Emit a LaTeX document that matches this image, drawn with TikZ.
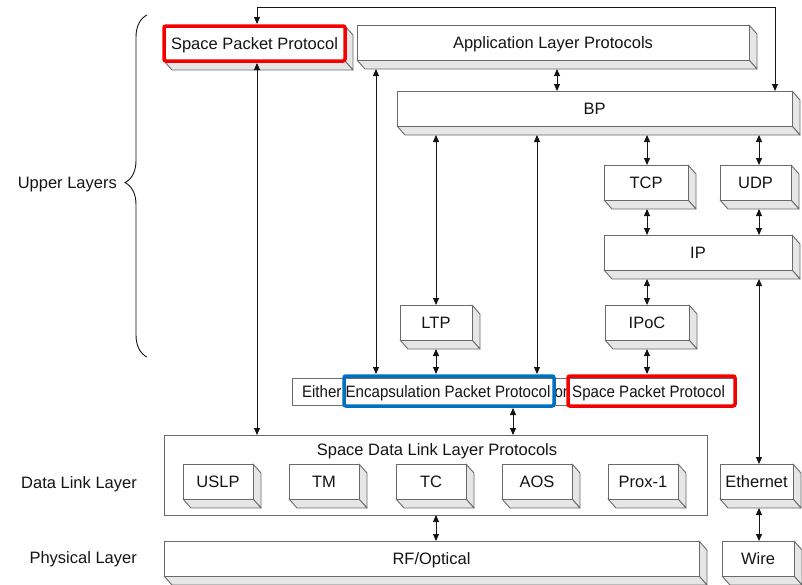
\documentclass[tikz,border=0pt]{standalone}
\usepackage{fontspec}
\setmainfont{Liberation Sans}
\usetikzlibrary{arrows.meta,calc,backgrounds,decorations.pathreplacing}
\definecolor{edgegray}{HTML}{6A6A6A}
\definecolor{facegray}{HTML}{E6E6E6}
\definecolor{hlred}{HTML}{F50000}
\definecolor{hlblue}{HTML}{0070C0}
\definecolor{ink}{HTML}{141414}
\begin{document}
\begin{tikzpicture}[x=1pt,y=-1pt,
  font=\fontsize{16.5}{19}\selectfont,
  pbox/.style={draw=edgegray, fill=white, line width=0.9pt, inner sep=0pt, outer sep=0pt, anchor=north west, text height=12pt, text depth=0pt, text=ink},
  sideface/.style={draw=edgegray, fill=facegray, line width=0.9pt, line join=round},
  hlbox/.style={line width=3.5pt, rounded corners=2pt, inner sep=0pt, outer sep=0pt, anchor=north west},
  conn/.style={draw=ink, line width=0.9pt, {Triangle[length=7pt,width=6pt]}-{Triangle[length=7pt,width=6pt]}},
  sidelabel/.style={anchor=east, text=ink, inner sep=0pt, text height=12pt, text depth=0pt}]
\useasboundingbox (0,0) rectangle (802,584);

% upper layers
\node[pbox, draw=hlred, line width=3.5pt, rounded corners=2pt, minimum width=181, minimum height=35] (spp) at (164,26) {Space Packet Protocol};
\node[pbox, minimum width=392, minimum height=35] (app) at (357,25) {Application Layer Protocols};
\node[pbox, minimum width=395, minimum height=35] (bp) at (397,91) {BP};
\node[pbox, minimum width=84, minimum height=35] (tcp) at (604,165) {TCP};
\node[pbox, minimum width=71, minimum height=35] (udp) at (720,165) {UDP};
\node[pbox, minimum width=188, minimum height=35] (ip) at (604,235) {IP};
\node[pbox, minimum width=72, minimum height=35] (ltp) at (400,305) {LTP};
\node[pbox, minimum width=84, minimum height=35] (ipoc) at (605,305) {IPoC};

% encapsulation line
\node[pbox, minimum width=443, minimum height=27] (either) at (292,378) {\scalebox{0.915}[1]{Either Encapsulation Packet Protocol or Space Packet Protocol}};
\node[hlbox, draw=hlblue, minimum width=210, minimum height=30] (encap) at (344,376) {};
\node[hlbox, draw=hlred, minimum width=167, minimum height=30] (sppl) at (568,376) {};

% data link layer
\node[pbox, fill=none, minimum width=543, minimum height=80] (sdl) at (164,435) {};
\node[text=ink, inner sep=0pt] (sdltitle) at (437,451) {Space Data Link Layer Protocols};
\node[pbox, minimum width=70, minimum height=35] (uslp) at (183,464) {USLP};
\node[pbox, minimum width=70, minimum height=35] (tm) at (289,464) {TM};
\node[pbox, minimum width=70, minimum height=35] (tc) at (396,464) {TC};
\node[pbox, minimum width=70, minimum height=35] (aos) at (502,464) {AOS};
\node[pbox, minimum width=70, minimum height=35] (prox) at (608,464) {Prox-1};
\node[pbox, minimum width=73, minimum height=35] (eth) at (720,464) {Ethernet};

% physical layer
\node[pbox, minimum width=535, minimum height=35] (rf) at (164,541) {RF/Optical};
\node[pbox, minimum width=72, minimum height=35] (wire) at (722,541) {Wire};

% 3D faces
\begin{scope}[on background layer]
\foreach \n in {spp,app,bp,tcp,udp,ip,ltp,ipoc,uslp,tm,tc,aos,prox,eth,rf,wire}{
  \draw[sideface] (\n.north east) -- ++(8,9) -- ($(\n.south east)+(8,9)$) -- (\n.south east) -- cycle;
  \draw[sideface] (\n.south west) -- ($(\n.south west)+(8,9)$) -- ($(\n.south east)+(8,9)$) -- (\n.south east) -- cycle;
}
\end{scope}

% side labels and brace
\node[sidelabel] (upper) at (117,182) {Upper Layers};
\node[sidelabel] (dll) at (137,482) {Data Link Layer};
\node[sidelabel] (phy) at (137,557) {Physical Layer};
\draw[ink, line width=0.9pt, decorate, decoration={brace, amplitude=22pt, aspect=0.51}] (147,357) -- (147,15);

% column coordinates
\coordinate (loopL) at (257,7);
\coordinate (loopR) at (775,7);
\coordinate (cSPP) at (257,0);
\coordinate (cApp) at (376,0);
\coordinate (cAB) at (557,0);
\coordinate (cLTP) at (436,0);
\coordinate (cEnc) at (537,0);
\coordinate (cTCP) at (647,0);
\coordinate (cUDP) at (759,0);
\coordinate (cSDL) at (513,0);

% connectors
\draw[conn] ($(spp.north -| loopL)+(0,-2)$) -- (loopL) -- (loopR) -- (bp.north -| loopR);
\draw[conn] ($(spp.south -| cSPP)+(0,2)$) -- (sdl.north -| cSPP);
\draw[conn] ($(app.south -| cApp)+(0,9)$) -- ($(encap.north -| cApp)+(0,-2)$);
\draw[conn] ($(app.south -| cAB)+(0,9)$) -- (bp.north -| cAB);
\draw[conn] ($(bp.south -| cLTP)+(0,9)$) -- (ltp.north -| cLTP);
\draw[conn] ($(bp.south -| cEnc)+(0,9)$) -- ($(encap.north -| cEnc)+(0,-2)$);
\draw[conn] ($(bp.south -| cTCP)+(0,9)$) -- (tcp.north -| cTCP);
\draw[conn] ($(bp.south -| cUDP)+(0,9)$) -- (udp.north -| cUDP);
\draw[conn] ($(tcp.south -| cTCP)+(0,9)$) -- (ip.north -| cTCP);
\draw[conn] ($(udp.south -| cUDP)+(0,9)$) -- (ip.north -| cUDP);
\draw[conn] ($(ip.south -| cTCP)+(0,9)$) -- (ipoc.north -| cTCP);
\draw[conn] ($(ip.south -| cUDP)+(0,9)$) -- (eth.north -| cUDP);
\draw[conn] ($(ltp.south -| cLTP)+(0,9)$) -- ($(encap.north -| cLTP)+(0,-2)$);
\draw[conn] ($(ipoc.south -| cTCP)+(0,9)$) -- ($(sppl.north -| cTCP)+(0,-2)$);
\draw[conn] ($(encap.south -| cSDL)+(0,2)$) -- (sdl.north -| cSDL);
\draw[conn] (sdl.south -| cLTP) -- (rf.north -| cLTP);
\draw[conn] ($(eth.south -| cUDP)+(0,9)$) -- (wire.north -| cUDP);
\end{tikzpicture}
\end{document}
